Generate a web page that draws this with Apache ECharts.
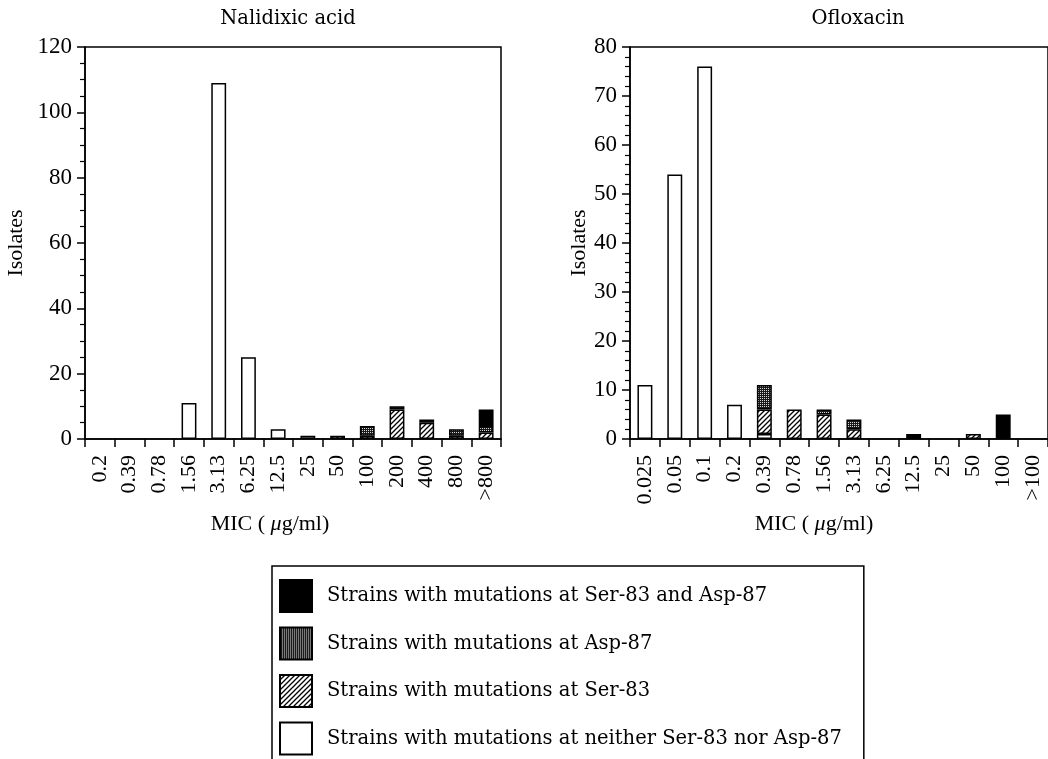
<!DOCTYPE html>
<html>
<head>
<meta charset="utf-8">
<script src="https://cdn.jsdelivr.net/npm/echarts@6/dist/echarts.min.js"></script>
<style>
html,body{margin:0;padding:0;background:#fff;}
#chart{width:1048px;height:759px;}
</style>
</head>
<body>
<div id="chart"></div>
<script>
// ---- Data ----
const nalCategories = ['0.2','0.39','0.78','1.56','3.13','6.25','12.5','25','50','100','200','400','800','>800'];
const nalNeither = [0,0,0,11,109,25,3,1,0,0,0,0,0,0];
const nalSer83   = [0,0,0,0,0,0,0,0,1,1,9,5,1,2];
const nalAsp87   = [0,0,0,0,0,0,0,0,0,3,1,0,2,2];
const nalBoth    = [0,0,0,0,0,0,0,0,0,0,0,1,0,5];

const oflCategories = ['0.025','0.05','0.1','0.2','0.39','0.78','1.56','3.13','6.25','12.5','25','50','100','>100'];
const oflNeither = [11,54,76,7,1,0,0,0,0,0,0,0,0,0];
const oflSer83   = [0,0,0,0,5,6,5,2,0,0,0,1,0,0];
const oflAsp87   = [0,0,0,0,5,0,1,2,0,0,0,0,0,0];
const oflBoth    = [0,0,0,0,0,0,0,0,0,1,0,0,5,0];

const nalTicks = {min:0, max:120, interval:20};
const oflTicks = {min:0, max:80, interval:10};

const nameBoth = 'Strains with mutations at Ser-83 and Asp-87';
const nameAsp = 'Strains with mutations at Asp-87';
const nameSer = 'Strains with mutations at Ser-83';
const nameNeither = 'Strains with mutations at neither Ser-83 nor Asp-87';

// ---- Patterns ----
function hatchPattern(){
  const c = document.createElement('canvas');
  const s = 5;
  c.width = s; c.height = s;
  const g = c.getContext('2d');
  g.fillStyle = '#fff'; g.fillRect(0,0,s,s);
  g.strokeStyle = '#000'; g.lineWidth = 1.3;
  g.beginPath();
  g.moveTo(-1, s+1); g.lineTo(s+1, -1);
  g.moveTo(-1, 1); g.lineTo(1, -1);
  g.moveTo(s-1, s+1); g.lineTo(s+1, s-1);
  g.stroke();
  return c;
}
function dotPattern(){
  const c = document.createElement('canvas');
  c.width = 2; c.height = 2;
  const g = c.getContext('2d');
  g.fillStyle = '#1a1a1a'; g.fillRect(0,0,2,2);
  g.fillStyle = '#d8d8d8';
  g.fillRect(0,0,1,1);
  return c;
}
const hatchColor = {image: hatchPattern(), repeat: 'repeat'};
const dotColor = {image: dotPattern(), repeat: 'repeat'};

const serif = 'Liberation Serif';
const book = 'DejaVu Serif';

const nz = arr => arr.map(v => v === 0 ? '-' : v);

function barSeries(name, data, color, idx){
  return {
    name: name, type: 'bar', stack: 's' + idx,
    xAxisIndex: idx, yAxisIndex: idx,
    barWidth: '50%',
    data: nz(data),
    itemStyle: {color: color, borderColor: '#000', borderWidth: 1.5},
    emphasis: {disabled: true},
    animation: false
  };
}

function xAxisDef(idx, cats, padRight){
  return {
    type: 'category', gridIndex: idx, data: cats,
    boundaryGap: true,
    axisLine: {lineStyle: {color: '#000', width: 1.5}},
    axisTick: {show: true, length: 8, lineStyle: {color: '#000', width: 1.5}},
    axisLabel: {rotate: 90, margin: 16, color: '#000', fontFamily: serif, fontSize: 22, interval: 0},
    name: 'MIC ( {i|μ}g/ml)',
    nameLocation: 'middle', nameGap: 74,
    nameTextStyle: {color: '#000', fontFamily: serif, fontSize: 22, padding: [0, padRight, 0, 0],
      rich: {i: {fontStyle: 'italic', fontFamily: serif, fontSize: 22, color: '#000'}}}
  };
}
function yAxisDef(idx, t, minorSplit, gap){
  return {
    type: 'value', gridIndex: idx, min: t.min, max: t.max, interval: t.interval,
    axisLine: {show: true, lineStyle: {color: '#000', width: 1.5}},
    axisTick: {show: true, length: 8, lineStyle: {color: '#000', width: 1.5}},
    minorTick: {show: true, splitNumber: minorSplit, length: 5, lineStyle: {color: '#000', width: 1.2}},
    splitLine: {show: false},
    axisLabel: {color: '#000', fontFamily: serif, fontSize: 23, margin: 13},
    name: 'Isolates', nameLocation: 'middle', nameGap: gap, nameRotate: 90,
    nameTextStyle: {color: '#000', fontFamily: serif, fontSize: 22}
  };
}

const chart = echarts.init(document.getElementById('chart'), null, {renderer: 'canvas'});
chart.setOption({
  backgroundColor: '#fff',
  animation: false,
  title: [
    {text: 'Nalidixic acid', left: 283, top: 4, textAlign: 'center',
      textStyle: {fontFamily: book, fontWeight: 'normal', fontSize: 19.5, color: '#000'}},
    {text: 'Ofloxacin', left: 853, top: 4, textAlign: 'center',
      textStyle: {fontFamily: book, fontWeight: 'normal', fontSize: 19.5, color: '#000'}}
  ],
  grid: [
    {left: 85, width: 416, top: 47, height: 392, show: true, borderColor: '#000', borderWidth: 1.5, backgroundColor: 'transparent', containLabel: false},
    {left: 630, width: 420, top: 47, height: 392, show: true, borderColor: '#000', borderWidth: 1.5, backgroundColor: 'transparent', containLabel: false}
  ],
  xAxis: [xAxisDef(0, nalCategories, 46), xAxisDef(1, oflCategories, 50)],
  yAxis: [yAxisDef(0, nalTicks, 4, 58), yAxisDef(1, oflTicks, 5, 33)],
  legend: {
    orient: 'vertical', left: 272, top: 566, height: 220,
    data: [nameBoth, nameAsp, nameSer, nameNeither],
    icon: 'rect', itemWidth: 32, itemHeight: 32, itemGap: 13.5,
    selectedMode: false,
    padding: [13, 22, 14, 7],
    borderColor: '#000', borderWidth: 1.5,
    textStyle: {fontFamily: book, fontSize: 19.5, color: '#000', padding: [0, 0, 0, 10]}
  },
  series: [
    barSeries(nameNeither, nalNeither, '#fff', 0),
    barSeries(nameSer, nalSer83, hatchColor, 0),
    barSeries(nameAsp, nalAsp87, dotColor, 0),
    barSeries(nameBoth, nalBoth, '#000', 0),
    barSeries(nameNeither, oflNeither, '#fff', 1),
    barSeries(nameSer, oflSer83, hatchColor, 1),
    barSeries(nameAsp, oflAsp87, dotColor, 1),
    barSeries(nameBoth, oflBoth, '#000', 1)
  ]
});
</script>
</body>
</html>
